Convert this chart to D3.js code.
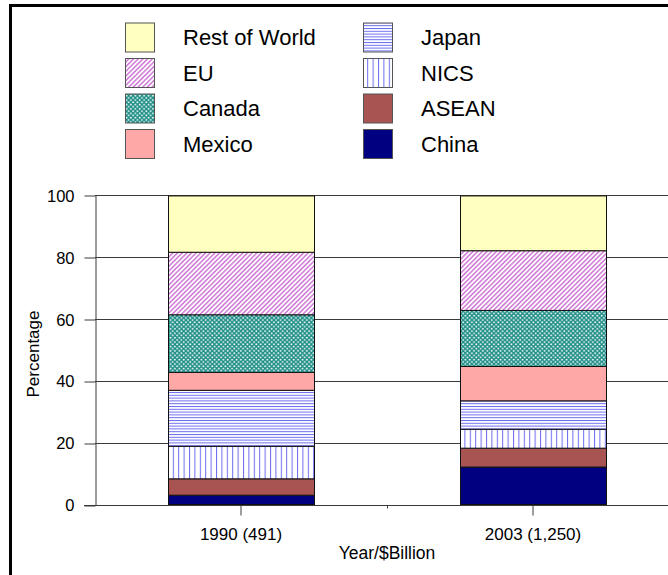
<!DOCTYPE html>
<html>
<head>
<meta charset="utf-8">
<script src="https://cdn.jsdelivr.net/npm/d3@7"></script>
<style>
  html, body { margin: 0; padding: 0; background: #fff; }
  svg { display: block; font-family: "Liberation Sans", Arial, sans-serif; }
</style>
</head>
<body>
<svg id="chart" width="668" height="575"></svg>
<script>
// Share of imports by source region, percent of total
const categories = ["1990 (491)", "2003 (1,250)"];
const seriesNames = ["China", "ASEAN", "NICS", "Japan", "Mexico", "Canada", "EU", "Rest of World"];
const china       = [3.0, 12.1];
const asean       = [5.3, 6.1];
const nics        = [10.5, 6.1];
const japan       = [18.1, 9.2];
const mexico      = [5.8, 11.1];
const canada      = [18.6, 18.1];
const eu          = [20.2, 19.3];
const restOfWorld = [18.2, 17.7];
const yTicks = [0, 20, 40, 60, 80, 100];
const legendOrder = ["Rest of World", "Japan", "EU", "NICS", "Canada", "ASEAN", "Mexico", "China"];

const seriesValues = {
  "China": china, "ASEAN": asean, "NICS": nics, "Japan": japan,
  "Mexico": mexico, "Canada": canada, "EU": eu, "Rest of World": restOfWorld
};

const rows = categories.map((c, i) => {
  const r = { category: c };
  seriesNames.forEach(s => { r[s] = seriesValues[s][i]; });
  return r;
});

const svg = d3.select("#chart");
const defs = svg.append("defs");

// fill patterns
const diag = defs.append("pattern").attr("id", "pat-eu")
  .attr("patternUnits", "userSpaceOnUse")
  .attr("width", 3.3).attr("height", 3.3)
  .attr("patternTransform", "rotate(45)");
diag.append("rect").attr("width", 3.3).attr("height", 3.3).attr("fill", "#fff");
diag.append("rect").attr("width", 1.5).attr("height", 3.3).attr("fill", "#cf78d6");

const dots = defs.append("pattern").attr("id", "pat-canada")
  .attr("patternUnits", "userSpaceOnUse").attr("width", 4.4).attr("height", 4.4);
dots.append("rect").attr("width", 4.4).attr("height", 4.4).attr("fill", "#1f8f88");
[[1.1, 1.1], [3.3, 3.3]].forEach(([cx, cy]) =>
  dots.append("circle").attr("cx", cx).attr("cy", cy).attr("r", 0.95).attr("fill", "#fff"));

const hl = defs.append("pattern").attr("id", "pat-japan")
  .attr("patternUnits", "userSpaceOnUse").attr("width", 4).attr("height", 2.8);
hl.append("rect").attr("width", 4).attr("height", 2.8).attr("fill", "#fff");
hl.append("rect").attr("y", 0).attr("width", 4).attr("height", 1).attr("fill", "#6c6cf0");

const vl = defs.append("pattern").attr("id", "pat-nics")
  .attr("patternUnits", "userSpaceOnUse").attr("width", 5.4).attr("height", 4);
vl.append("rect").attr("width", 5.4).attr("height", 4).attr("fill", "#fff");
vl.append("rect").attr("x", 0).attr("width", 1).attr("height", 4).attr("fill", "#6c6cf0");

const fills = {
  "Rest of World": "#ffffc0",
  "EU": "url(#pat-eu)",
  "Canada": "url(#pat-canada)",
  "Mexico": "#ffa8a8",
  "Japan": "url(#pat-japan)",
  "NICS": "url(#pat-nics)",
  "ASEAN": "#a85452",
  "China": "#000080"
};

// scales
const y = d3.scaleLinear().domain([0, 100]).range([504.5, 195]);
const x = d3.scaleBand().domain(categories).range([95, 679]).paddingInner(0.5).paddingOuter(0.25);

// frame
svg.append("path").attr("d", "M10.5,575 V5.5 H668")
  .attr("fill", "none").attr("stroke", "#000").attr("stroke-width", 3);

// gridlines
svg.append("g").selectAll("line").data(yTicks.filter(d => d > 0)).join("line")
  .attr("x1", 95).attr("x2", 668)
  .attr("y1", d => Math.round(y(d)) + 0.5).attr("y2", d => Math.round(y(d)) + 0.5)
  .attr("stroke", "#3a3a3a").attr("stroke-width", 1);

// y axis
const yAxis = svg.append("g").attr("transform", "translate(95.5,0.5)")
  .call(d3.axisLeft(y).tickValues(yTicks).tickSize(11).tickPadding(10).tickSizeOuter(0));
yAxis.select(".domain").attr("stroke", "#3a3a3a");
yAxis.selectAll(".tick line").attr("stroke", "#3a3a3a")
  .attr("transform", d => `translate(0,${Math.round(y(d)) - y(d)})`);
yAxis.selectAll(".tick text").attr("font-size", 16.5).attr("fill", "#000")
  .attr("font-family", "Liberation Sans, Arial, sans-serif").attr("dy", "0.35em");

// stacked bars
const stack = d3.stack().keys(seriesNames);
const layers = stack(rows);
svg.append("g").selectAll("g").data(layers).join("g")
  .attr("fill", d => fills[d.key])
  .selectAll("rect").data(d => d).join("rect")
  .attr("x", d => Math.round(x(d.data.category)) + 0.5)
  .attr("width", x.bandwidth())
  .attr("y", d => y(d[1]))
  .attr("height", d => y(d[0]) - y(d[1]))
  .attr("stroke", "#111").attr("stroke-width", 1);

// x axis
const xAxisY = Math.round(y(0)) + 0.5;
svg.append("line").attr("x1", 84).attr("x2", 668).attr("y1", xAxisY).attr("y2", xAxisY)
  .attr("stroke", "#3a3a3a");
const xg = svg.append("g").attr("transform", `translate(0,${xAxisY})`)
  .call(d3.axisBottom(x).tickSize(10).tickPadding(12).tickSizeOuter(0));
xg.select(".domain").remove();
xg.selectAll(".tick line").attr("stroke", "#3a3a3a");
xg.selectAll(".tick text").attr("font-size", 17).attr("fill", "#000")
  .attr("font-family", "Liberation Sans, Arial, sans-serif");
// short tick between the two categories
const mid = (x(categories[0]) + x.bandwidth() + x(categories[1])) / 2;
svg.append("line").attr("x1", Math.round(mid) + 0.5).attr("x2", Math.round(mid) + 0.5)
  .attr("y1", xAxisY).attr("y2", xAxisY + 3).attr("stroke", "#3a3a3a");

// axis titles
svg.append("text").attr("x", 387).attr("y", 559).attr("text-anchor", "middle")
  .attr("font-size", 17.5).text("Year/$Billion");
svg.append("text").attr("transform", "translate(39,354) rotate(-90)")
  .attr("text-anchor", "middle").attr("font-size", 17).text("Percentage");

// legend
const legend = svg.append("g");
const colX = [125, 363];
const textX = [183, 421];
const rowY = [22.5, 58, 93.5, 129];
legendOrder.forEach((name, i) => {
  const col = i % 2, row = Math.floor(i / 2);
  legend.append("rect")
    .attr("x", colX[col] + 0.5).attr("y", rowY[row] + 0.5)
    .attr("width", 29).attr("height", 29)
    .attr("fill", fills[name]).attr("stroke", "#555").attr("stroke-width", 1);
  legend.append("text")
    .attr("x", textX[col]).attr("y", rowY[row] + 22.5)
    .attr("font-size", 22).attr("fill", "#000").text(name);
});
</script>
</body>
</html>
